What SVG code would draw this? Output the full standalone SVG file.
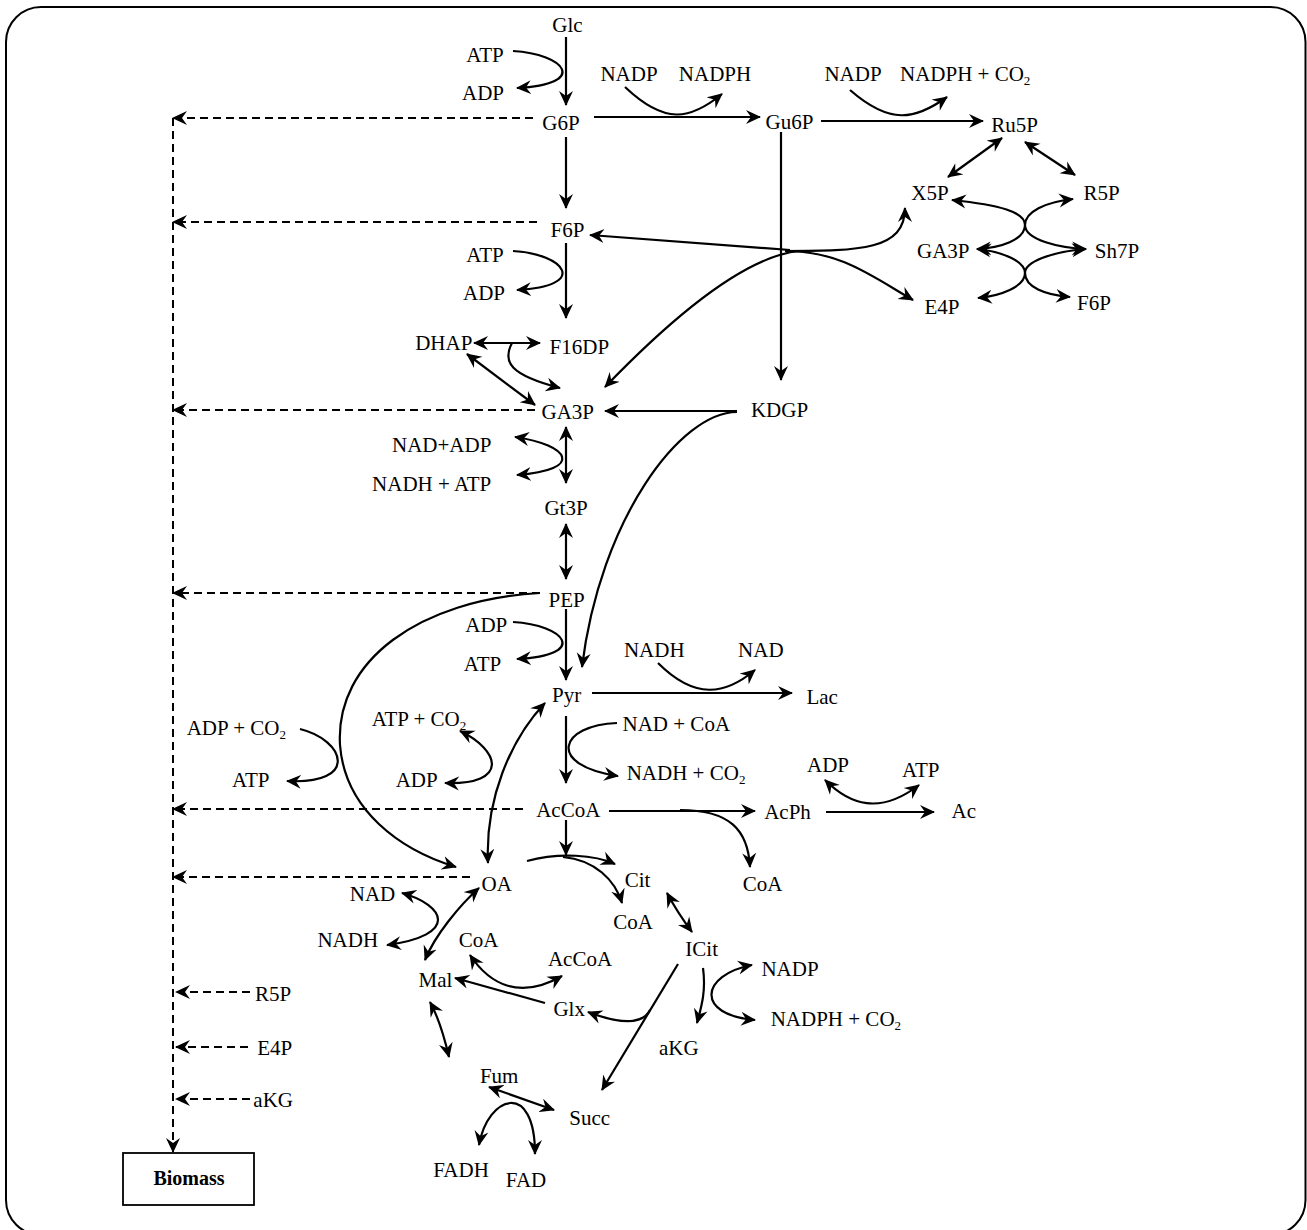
<svg xmlns="http://www.w3.org/2000/svg" width="1307" height="1230" viewBox="0 0 1307 1230">
<style>
text{font-family:"Liberation Serif","Times New Roman",serif;font-size:21px;fill:#000;text-anchor:middle}
text.s{text-anchor:start}
text.b{font-weight:bold;font-size:20px}
.c path{fill:none;stroke:#000;stroke-width:2.2}
.c path.d{stroke-dasharray:8 5;stroke-width:2}
.e{marker-end:url(#ah)}
.bt{marker-start:url(#ah);marker-end:url(#ah)}
tspan.sub{font-size:13px}
</style>
<defs>
<marker id="ah" viewBox="0 0 15 15" refX="14" refY="7.5" markerWidth="15" markerHeight="15" markerUnits="userSpaceOnUse" orient="auto-start-reverse">
<path d="M0,0.5 L15,7.5 L0,14.5 L5,7.5 z" fill="#000"/>
</marker>
</defs>
<rect x="6" y="7" width="1299.5" height="1228" rx="35" ry="35" fill="#fff" stroke="#000" stroke-width="2"/>

<g id="connectors" class="c">
<path class="d e" d="M173,118 L173,1152"/>
<path class="d e" d="M533,118 L173,118"/>
<path class="d e" d="M537,222 L173,222"/>
<path class="d e" d="M535,410 L173,410"/>
<path class="d e" d="M540,593 L173,593"/>
<path class="d e" d="M523,809 L173,809"/>
<path class="d e" d="M470,877 L173,877"/>
<path class="d e" d="M250,992 L176,992"/>
<path class="d e" d="M248,1047 L176,1047"/>
<path class="d e" d="M250,1099 L176,1099"/>
<path class="e" d="M566,37 L566,105"/>
<path class="e" d="M513,51 C565,54 590,84 517,88"/>
<path class="e" d="M566,137 L566,208"/>
<path class="e" d="M594,117 L760,117"/>
<path class="e" d="M625,87 C665,125 690,120 722,94"/>
<path class="e" d="M821,121 L983,121"/>
<path class="e" d="M850,90 C890,125 915,120 947,97"/>
<path class="bt" d="M1002,138 L948,177"/>
<path class="bt" d="M1025,142 L1075,175"/>
<path class="bt" d="M952,200 C1000,205 1025,212 1025,225 C1025,240 1060,248 1086,249"/>
<path class="bt" d="M1073,199 C1045,202 1025,212 1025,225 C1025,240 1000,248 977,249"/>
<path class="bt" d="M977,249 C1005,252 1025,262 1025,273 C1025,287 1045,295 1070,297"/>
<path class="bt" d="M1086,249 C1050,252 1025,262 1025,273 C1025,287 1000,296 978,298"/>
<path class="e" d="M781,132 L781,380"/>
<path class="e" d="M790,250 L590,235"/>
<path class="e" d="M800,251 C740,256 660,330 605,387"/>
<path class="e" d="M785,251 C860,251 905,250 905,208"/>
<path class="e" d="M785,251 C840,251 870,275 913,300"/>
<path class="e" d="M566,243 L566,318"/>
<path class="e" d="M513,251 C565,254 590,286 517,290"/>
<path class="bt" d="M474,343 L540,343"/>
<path class="e" d="M512,343 C502,362 510,375 560,388"/>
<path class="bt" d="M467,354 L535,405"/>
<path class="e" d="M737,411 L605,411"/>
<path class="e" d="M737,412 C680,412 600,520 582,667"/>
<path class="bt" d="M566,427 L566,483"/>
<path class="bt" d="M515,437 C570,445 585,470 517,475"/>
<path class="bt" d="M566,524 L566,579"/>
<path class="e" d="M566,609 L566,680"/>
<path class="e" d="M513,622 C565,625 590,655 517,659"/>
<path class="e" d="M540,593 C420,600 335,660 340,745 C345,810 400,850 456,867"/>
<path class="e" d="M300,729 C345,740 360,785 287,781"/>
<path class="bt" d="M545,703 C510,740 485,800 488,863"/>
<path class="bt" d="M460,731 C500,750 510,785 445,783"/>
<path class="e" d="M592,693 L792,693"/>
<path class="e" d="M658,663 C695,700 725,695 755,670"/>
<path class="e" d="M566,716 L566,783"/>
<path class="e" d="M617,723 C560,725 545,765 618,776"/>
<path class="e" d="M609,811 L755,811"/>
<path class="e" d="M680,810 C730,810 748,830 750,867"/>
<path class="e" d="M826,812 L934,812"/>
<path class="bt" d="M825,780 C850,805 880,815 919,785"/>
<path class="e" d="M566,820 L566,855"/>
<path class="e" d="M527,861 C560,852 595,855 615,864"/>
<path class="e" d="M563,857 C595,860 615,880 622,903"/>
<path class="bt" d="M667,893 C675,908 683,920 692,932"/>
<path class="bt" d="M402,893 C445,905 460,935 387,945"/>
<path class="bt" d="M479,888 C460,905 435,935 425,960"/>
<path class="bt" d="M470,955 C490,985 520,1000 562,976"/>
<path class="e" d="M545,1003 L455,978"/>
<path class="e" d="M678,964 L602,1090"/>
<path class="e" d="M650,1010 C645,1020 630,1028 588,1012"/>
<path class="e" d="M703,968 C706,990 702,1005 697,1023"/>
<path class="bt" d="M752,965 C700,975 695,1015 755,1020"/>
<path class="bt" d="M430,1002 C440,1020 445,1040 449,1057"/>
<path class="bt" d="M489,1087 L554,1110"/>
<path class="bt" d="M479,1145 C488,1095 535,1080 535,1154"/>
</g>

<g id="n-Glc"><text x="567.5" y="32">Glc</text></g>
<g id="n-ATP1"><text x="485" y="62">ATP</text></g>
<g id="n-ADP1"><text x="483" y="100">ADP</text></g>
<g id="n-NADP1"><text x="629" y="81">NADP</text></g>
<g id="n-NADPH1"><text x="715" y="81">NADPH</text></g>
<g id="n-G6P"><text x="561" y="130">G6P</text></g>
<g id="n-Gu6P"><text x="789.5" y="129">Gu6P</text></g>
<g id="n-NADP2"><text x="853" y="81">NADP</text></g>
<g id="n-NADPHCO2a"><text class="s" x="900" y="81">NADPH + CO<tspan class="sub" dy="4">2</tspan></text></g>
<g id="n-Ru5P"><text x="1014.7" y="132">Ru5P</text></g>
<g id="n-X5P"><text x="930" y="200">X5P</text></g>
<g id="n-R5P"><text x="1101.7" y="200">R5P</text></g>
<g id="n-GA3P2"><text x="943.3" y="258">GA3P</text></g>
<g id="n-Sh7P"><text x="1117" y="258">Sh7P</text></g>
<g id="n-E4P"><text x="942" y="314">E4P</text></g>
<g id="n-F6P2"><text x="1094" y="310">F6P</text></g>
<g id="n-F6P"><text x="567.5" y="237">F6P</text></g>
<g id="n-ATP2"><text x="485" y="262">ATP</text></g>
<g id="n-ADP2"><text x="484" y="300">ADP</text></g>
<g id="n-DHAP"><text x="443.8" y="350">DHAP</text></g>
<g id="n-F16DP"><text x="579.3" y="354">F16DP</text></g>
<g id="n-GA3P"><text x="567.8" y="419">GA3P</text></g>
<g id="n-KDGP"><text x="779.5" y="416.5">KDGP</text></g>
<g id="n-NADADP"><text x="441.7" y="452">NAD+ADP</text></g>
<g id="n-NADHATP"><text x="431.7" y="490.5">NADH + ATP</text></g>
<g id="n-Gt3P"><text x="566" y="514.5">Gt3P</text></g>
<g id="n-PEP"><text x="566.7" y="607">PEP</text></g>
<g id="n-ADP3"><text x="486.3" y="632">ADP</text></g>
<g id="n-ATP3"><text x="482.5" y="671">ATP</text></g>
<g id="n-Pyr"><text x="566.7" y="702">Pyr</text></g>
<g id="n-NADH1"><text x="654.3" y="657">NADH</text></g>
<g id="n-NAD1"><text x="760.8" y="657">NAD</text></g>
<g id="n-Lac"><text x="822.2" y="704">Lac</text></g>
<g id="n-NADCoA"><text x="676.3" y="731">NAD + CoA</text></g>
<g id="n-NADHCO2"><text class="s" x="626.7" y="780">NADH + CO<tspan class="sub" dy="4">2</tspan></text></g>
<g id="n-ADPCO2"><text class="s" x="186.7" y="734.5">ADP + CO<tspan class="sub" dy="4">2</tspan></text></g>
<g id="n-ATP4"><text x="250.8" y="787">ATP</text></g>
<g id="n-ATPCO2"><text class="s" x="371.7" y="725.5">ATP + CO<tspan class="sub" dy="4">2</tspan></text></g>
<g id="n-ADP4"><text x="416.7" y="787">ADP</text></g>
<g id="n-AcCoA"><text x="568.3" y="817">AcCoA</text></g>
<g id="n-AcPh"><text x="787.5" y="819">AcPh</text></g>
<g id="n-ADP5"><text x="828" y="772">ADP</text></g>
<g id="n-ATP5"><text x="920.8" y="777">ATP</text></g>
<g id="n-Ac"><text x="963.8" y="818">Ac</text></g>
<g id="n-CoA1"><text x="762.5" y="890.5">CoA</text></g>
<g id="n-Cit"><text x="637.5" y="887">Cit</text></g>
<g id="n-CoA2"><text x="633" y="929">CoA</text></g>
<g id="n-OA"><text x="496.7" y="890.5">OA</text></g>
<g id="n-NAD2"><text x="372.5" y="900.5">NAD</text></g>
<g id="n-NADH2"><text x="347.8" y="947">NADH</text></g>
<g id="n-CoA3"><text x="478.7" y="947">CoA</text></g>
<g id="n-AcCoA2"><text x="580" y="965.5">AcCoA</text></g>
<g id="n-ICit"><text x="701.7" y="955.5">ICit</text></g>
<g id="n-Mal"><text x="435.5" y="986.5">Mal</text></g>
<g id="n-NADP3"><text x="790" y="975.5">NADP</text></g>
<g id="n-Glx"><text x="569.2" y="1015.5">Glx</text></g>
<g id="n-NADPHCO2b"><text class="s" x="770.7" y="1025.5">NADPH + CO<tspan class="sub" dy="4">2</tspan></text></g>
<g id="n-aKG"><text x="678.8" y="1054.5">aKG</text></g>
<g id="n-Fum"><text x="499.2" y="1083">Fum</text></g>
<g id="n-Succ"><text x="589.7" y="1124.5">Succ</text></g>
<g id="n-FADH"><text x="461" y="1176.5">FADH</text></g>
<g id="n-FAD"><text x="526" y="1187">FAD</text></g>
<g id="n-R5Pb"><text x="273.2" y="1000.5">R5P</text></g>
<g id="n-E4Pb"><text x="274.8" y="1054.5">E4P</text></g>
<g id="n-aKGb"><text x="273.2" y="1106.5">aKG</text></g>
<g id="n-Biomass"><rect x="123" y="1153" width="131" height="52" fill="#fff" stroke="#000" stroke-width="1.8"/><text class="b" x="189" y="1185">Biomass</text></g>
</svg>
